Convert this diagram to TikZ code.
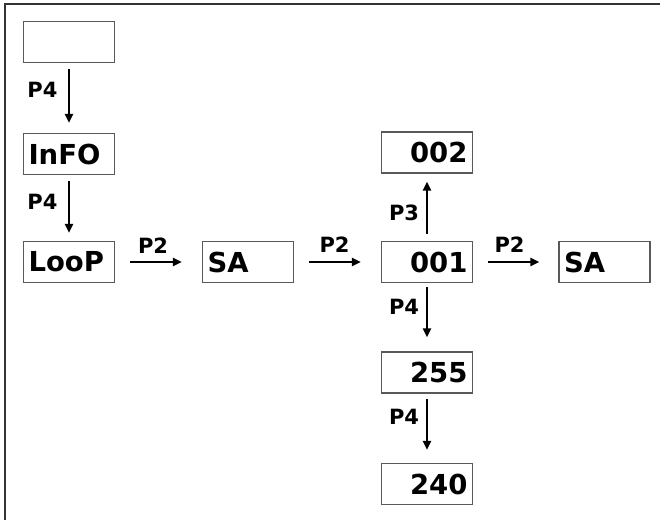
\documentclass[tikz,border=0pt]{standalone}
\usepackage{fontspec}
\setmainfont{DejaVu Sans}
\usetikzlibrary{arrows.meta}
\begin{document}
\begin{tikzpicture}[x=1pt,y=-1pt,
  box/.style={draw=black!65, line width=1.2pt, minimum height=41pt, minimum width=91pt,
    text width=81pt, inner xsep=5pt, inner ysep=0pt, font=\fontsize{27.5}{27.5}\selectfont\bfseries},
  lbox/.style={box, align=left},
  rbox/.style={box, align=right},
  lbl/.style={inner sep=0pt, font=\fontsize{21}{21}\selectfont\bfseries},
  arr/.style={line width=2pt, -{Triangle[length=9pt,width=8pt]}},
  frame/.style={draw=black!80, line width=2pt}
]
\useasboundingbox (0,0) rectangle (660,520);
\draw[frame] (5,520) -- (5,4) -- (660,4);

\node[lbox] (top) at (69,42) {};
\node[lbox] (info) at (69,154) {InFO};
\node[lbox] (loop) at (69,262) {LooP};
\node[lbox] (sa1) at (248,262) {SA};
\node[rbox] (n001) at (427,262) {001};
\node[rbox] (n002) at (427,152.5) {002};
\node[rbox] (n255) at (427,372.5) {255};
\node[rbox] (n240) at (427,484) {240};
\node[lbox] (sa2) at (604.5,262) {SA};

\draw[arr, shorten <=6pt, shorten >=10pt] (top) -- (info);
\draw[arr, shorten <=6pt, shorten >=8pt] (info) -- (loop);
\draw[arr, shorten <=15pt, shorten >=20pt] (loop) -- (sa1);
\draw[arr, shorten <=15pt, shorten >=20pt] (sa1) -- (n001);
\draw[arr, shorten <=15pt, shorten >=19pt] (n001) -- (sa2);
\draw[arr, shorten <=7pt, shorten >=8pt] (n001) -- (n002);
\draw[arr, shorten <=4pt, shorten >=14pt] (n001) -- (n255);
\draw[arr, shorten <=5pt, shorten >=13pt] (n255) -- (n240);

\node[lbl] (l1) at (42.5,89.5) {P4};
\node[lbl] (l2) at (42.5,201.5) {P4};
\node[lbl] (l3) at (153,245.5) {P2};
\node[lbl] (l4) at (334.5,245) {P2};
\node[lbl] (l5) at (509.5,245) {P2};
\node[lbl] (l6) at (404,212.5) {P3};
\node[lbl] (l7) at (404,307) {P4};
\node[lbl] (l8) at (404,417) {P4};
\end{tikzpicture}
\end{document}
